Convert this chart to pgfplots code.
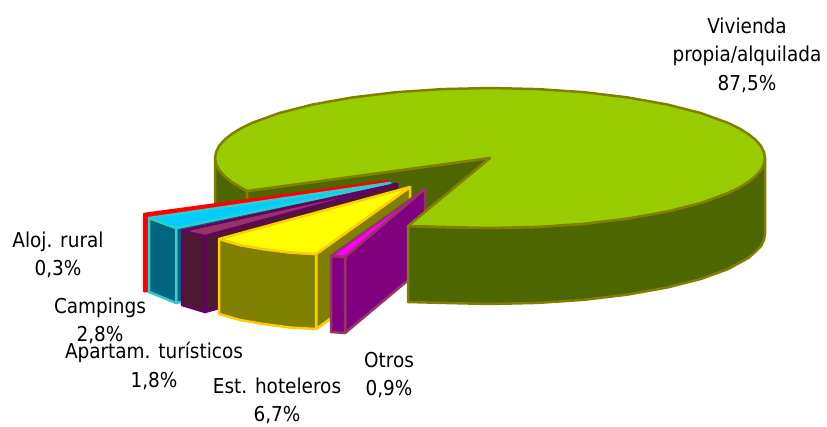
\documentclass[border=0pt]{standalone}
\usepackage{fontspec}
\setmainfont{DejaVu Sans Condensed}
\usepackage{pgfplots}
\pgfplotsset{compat=1.18}

\definecolor{vivtop}{HTML}{99CC00}
\definecolor{vivside}{HTML}{4D6600}
\definecolor{vivline}{HTML}{808000}
\definecolor{hotline}{HTML}{FFCC00}
\definecolor{hottop}{HTML}{FFFF00}
\definecolor{otrline}{HTML}{993366}
\definecolor{otrtop}{HTML}{FF00FF}
\definecolor{otrside}{HTML}{800080}
\definecolor{aptside}{HTML}{4D1933}
\definecolor{aptline}{HTML}{660066}
\definecolor{camtop}{HTML}{00CCFF}
\definecolor{camside}{HTML}{006680}
\definecolor{camline}{HTML}{33CCCC}
\definecolor{alored}{HTML}{FF0000}

\begin{document}
\begin{tikzpicture}
\useasboundingbox (0,0) rectangle (827pt,426pt);
\begin{axis}[
    at={(0,0)}, anchor=south west,
    scale only axis, width=827pt, height=426pt,
    xmin=0, xmax=827, ymin=0, ymax=426,
    y dir=reverse, hide axis, clip=false,
    every axis plot/.append style={line width=2.5pt, line join=round, mark=none},
]
% left bit of the main wall, then the cut faces
\addplot[fill=vivside, draw=vivline] coordinates {
    (215,158) (215,234) (219.2,246.2) (231.6,257.9) (247,267) (247,191) (231.6,181.9) (219.2,170.2)} --cycle;
\addplot[fill=vivside, draw=vivline] coordinates {
    (490,158) (247,191) (247,240) (408,250) (408,226)} --cycle;

% Aloj. rural
\addplot[fill=alored, draw=alored] coordinates {
    (144,214) (388,181) (148,218) (148,291) (144,291)} --cycle;

% Campings
\addplot[fill=camside, draw=camline] coordinates {
    (176,228) (390,183) (390,258) (176,303)} --cycle;
\addplot[fill=camside, draw=camline] coordinates {
    (149,218) (176,228) (176,303) (149,292)} --cycle;
\addplot[fill=camtop, draw=camline] coordinates {
    (149,218) (390,183) (176,228)} --cycle;

% Apartam. turisticos
\addplot[fill=aptside, draw=aptline] coordinates {
    (205,236) (397,184) (397,258) (205,312)} --cycle;
\addplot[fill=aptside, draw=aptline] coordinates {
    (182,231) (205,236) (205,312) (182,305)} --cycle;
\addplot[fill=otrline, draw=aptline] coordinates {
    (182,231) (397,184) (205,236)} --cycle;

% Est. hoteleros
\addplot[fill=vivline, draw=hotline] coordinates {
    (316,254) (410,187) (410,262) (316,329)} --cycle;
\addplot[fill=vivline, draw=hotline] coordinates {
    (219,239) (240,245) (263,249) (290,252.5) (316,254)
    (316,329) (290,327.5) (263,324) (240,320) (219,314)} --cycle;
\addplot[fill=hottop, draw=hotline] coordinates {
    (219,239) (410,187) (316,254) (290,252.5) (263,249) (240,245)} --cycle;

% Otros
\addplot[fill=otrtop, draw=otrline] coordinates {
    (331,256) (425,189) (345,257)} --cycle;
\addplot[fill=otrside, draw=otrline] coordinates {
    (345,257) (425,189) (425,266) (345,333)} --cycle;
\addplot[fill=otrside, draw=otrline] coordinates {
    (331,256) (345,257) (345,333) (331,332)} --cycle;

% right wall of the big slice
\addplot[fill=vivside, draw=vivline] coordinates {
    (408,226) (442.2,226.9) (490,228) (537.8,226.9) (584.1,223.8) (627.5,218.6)
    (666.8,211.6) (700.7,203) (728.2,193) (748.4,181.9) (755.6,175.6) (760.8,170.2) (763.9,164.1) (765,158)
    (765,234) (763.9,240.1) (760.8,246.2) (755.6,251.6) (748.4,257.9) (728.2,269) (700.7,279)
    (666.8,287.6) (627.5,294.6) (584.1,299.8) (537.8,302.9) (490,304) (442.2,302.9) (408,302)} --cycle;

% top of the big slice
\addplot[fill=vivtop, draw=vivline] coordinates {
    (490,158) (408,226) (442.2,226.9) (490,228) (537.8,226.9) (584.1,223.8) (627.5,218.6)
    (666.8,211.6) (700.7,203) (728.2,193) (739.2,187.6) (748.4,181.9) (755.6,176.1) (760.8,170.2) (763.9,164.1) (765,158)
    (763.9,151.9) (760.8,145.8) (755.6,139.9) (748.4,134.1) (739.2,128.4) (728.2,123) (700.7,113)
    (666.8,104.4) (627.5,97.4) (584.1,92.2) (537.8,89.1) (490,88) (442.2,89.1) (395.9,92.2)
    (352.5,97.4) (313.2,104.4) (279.3,113) (251.8,123) (240.8,128.4) (231.6,134.1) (224.4,139.9) (219.2,145.8) (216.1,151.9) (215,158)
    (216.1,164.1) (219.2,170.2) (224.4,176.1) (231.6,181.9) (247,191)} --cycle;

% labels
\tikzset{lab/.style={align=center, inner sep=0pt, text=black, font=\fontsize{20.5}{28.5}\selectfont}}
\node[lab] at (axis cs:747,55) {Vivienda\\propia/alquilada\\87,5\%};
\node[lab] at (axis cs:58,255) {Aloj. rural\\0,3\%};
\node[lab] at (axis cs:100,321) {Campings\\2,8\%};
\node[lab] at (axis cs:154,366) {Apartam. turísticos\\1,8\%};
\node[lab] at (axis cs:277,401) {Est. hoteleros\\6,7\%};
\node[lab] at (axis cs:389,375) {Otros\\0,9\%};
\end{axis}
\end{tikzpicture}
\end{document}
